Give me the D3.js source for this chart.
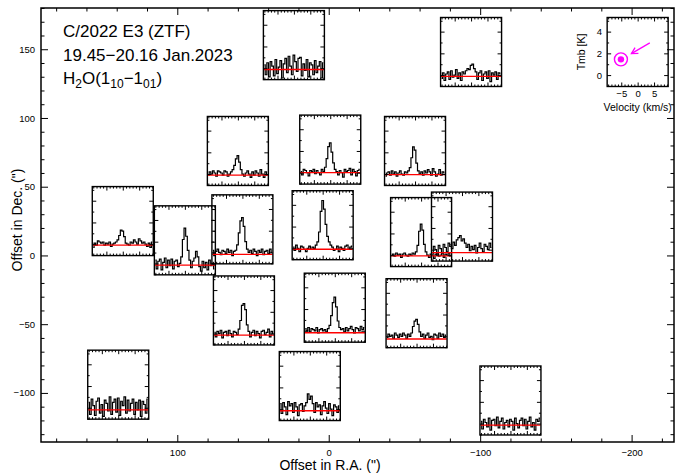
<!DOCTYPE html>
<html>
<head>
<meta charset="utf-8">
<script src="https://cdn.jsdelivr.net/npm/d3@7/dist/d3.min.js"></script>
<style>
  body { margin: 0; background: #fff; }
  text { font-family: "Liberation Sans", Arial, sans-serif; fill: #000; }
</style>
</head>
<body>
<svg id="map" width="676" height="475"></svg>
<script>

// velocity channels (km/s)
let vel = [-9, -8.5, -8, -7.5, -7, -6.5, -6, -5.5, -5, -4.5, -4, -3.5, -3, -2.5, -2, -1.5, -1, -0.5,
           0, 0.5, 1, 1.5, 2, 2.5, 3, 3.5, 4, 4.5, 5, 5.5, 6, 6.5, 7, 7.5, 8, 8.5, 9];

// centre of each spectrum box on the map (arcsec)
let panel_ra  = [23, -94, 60, -1, -57, 136, 95, 57, 4, -61, -88, 56, -4, -58, 139, 12.5, -120];
let panel_dec = [153, 148, 76, 77, 76, 25, 11, 19, 22, 17, 21, -40, -38, -42, -94, -95, -105.5];

// fitted baseline (red line) of each spectrum (K)
let base_level = [-0.12, -0.12, -0.09, 0.0, -0.06, -0.09, -0.15, -0.18, -0.09, -0.06, -0.27,
                  -0.15, -0.18, -0.25, -0.2, -0.15, -0.15];

// Tmb (K), one row per box
let spectra = [
    [0.3,-0.6,0.5,-0.8,0.6,0.2,-0.7,0.8,-0.5,0.1,0.7,-0.9,0.4,0.9,-0.4,1.1,0.2,-0.6,1.2,0.6,-0.3,0.9,1.0,-0.7,0.4,-0.2,0.8,-0.8,0.5,0.3,-0.6,0.7,-0.4,0.2,0.6,-0.9,0.5],
    [-0.3,0.2,-0.5,0.1,0.3,-0.4,0.4,-0.2,0.0,0.5,-0.3,0.2,-0.5,0.3,0.1,0.4,0.6,0.5,0.9,1.0,0.6,0.3,-0.4,0.2,0.4,-0.5,0.1,0.3,-0.3,0.4,-0.6,0.2,0.0,0.3,-0.4,0.2,0.1],
    [-0.1,0.2,0.0,0.3,0.1,-0.2,0.3,0.2,0.1,-0.1,0.3,0.2,-0.2,0.0,0.2,0.4,0.8,1.4,1.7,1.1,0.4,0.0,-0.2,0.1,0.3,0.0,-0.3,0.2,-0.1,0.3,0.1,-0.2,0.4,0.0,-0.3,0.2,-0.1],
    [0.1,-0.2,0.3,0.2,0.0,-0.3,0.2,0.1,0.3,-0.1,0.2,0.0,-0.2,0.3,0.1,0.5,1.3,2.4,2.75,1.9,0.9,0.3,0.1,-0.2,0.2,0.0,-0.4,0.3,0.1,0.2,0.4,-0.2,0.3,0.1,-0.3,0.2,0.3],
    [-0.2,0.1,0.2,-0.1,0.3,0.0,0.2,-0.2,0.1,0.3,0.0,-0.1,0.2,0.1,0.3,0.6,1.5,2.5,2.2,1.0,0.3,0.0,0.2,-0.1,0.3,0.1,0.4,0.2,-0.1,0.5,0.2,-0.2,0.0,0.4,-0.1,0.2,0.1],
    [-0.3,0.1,-0.1,0.3,0.2,0.1,0.2,-0.1,0.1,0.0,0.2,-0.2,0.0,0.1,0.2,0.4,0.8,1.3,1.2,0.7,0.1,0.0,-0.1,0.2,0.1,0.4,0.2,0.0,0.5,0.3,0.1,0.2,0.0,-0.2,0.1,-0.3,0.2],
    [0.3,-0.5,0.2,0.4,-0.6,0.1,0.5,-0.4,0.3,-0.2,0.4,-0.5,0.2,0.3,-0.3,0.0,0.6,2.2,3.25,2.5,1.2,0.3,-0.4,0.2,0.5,1.1,0.6,-0.3,-0.7,0.2,-0.4,0.1,-0.6,0.3,-0.2,0.0,-0.5],
    [0.2,-0.3,0.1,0.3,0.0,-0.2,0.2,0.1,-0.1,0.3,0.0,0.2,-0.3,0.1,0.2,0.7,1.8,2.9,3.2,2.4,1.0,0.3,0.0,0.2,-0.1,0.3,0.1,-0.3,0.2,0.0,0.3,-0.2,0.1,0.2,-0.1,0.3,0.0],
    [0.1,-0.2,0.3,0.0,-0.3,0.2,0.1,-0.1,-0.3,0.0,0.2,-0.1,0.1,0.0,0.3,0.6,1.5,3.4,4.4,3.6,2.2,1.1,0.6,0.3,0.1,-0.2,-0.1,0.2,-0.3,0.1,0.0,-0.2,0.2,0.3,-0.1,0.1,0.2],
    [0.0,0.1,-0.1,0.2,0.0,0.1,-0.2,0.1,0.2,0.0,-0.1,0.1,0.0,0.2,0.1,0.3,0.9,2.2,2.85,2.3,1.0,0.3,0.0,-0.2,0.1,0.0,-0.3,0.1,0.2,-0.1,0.0,0.2,-0.2,0.1,0.0,0.2,-0.1],
    [-0.4,0.3,0.0,-0.5,0.4,0.1,-0.3,0.5,0.2,-0.2,0.6,0.3,0.1,0.7,0.4,0.9,1.1,1.3,0.8,1.0,0.6,0.2,0.5,-0.1,0.3,0.0,0.4,-0.3,0.2,0.6,0.1,-0.2,0.5,0.3,0.0,0.6,0.2],
    [0.1,-0.3,0.2,0.0,0.3,-0.4,0.1,0.2,-0.2,0.3,0.0,-0.3,0.2,0.1,-0.1,0.4,1.2,2.6,2.75,2.2,0.8,0.2,-0.3,0.1,0.3,-0.2,0.2,0.0,-0.4,0.2,0.3,-0.1,0.1,0.4,-0.3,0.2,0.0],
    [0.2,0.0,0.3,-0.1,0.2,0.1,0.0,0.3,-0.2,0.1,0.2,0.0,0.1,-0.1,0.2,0.5,1.4,2.6,3.1,2.2,0.9,0.3,0.1,0.2,-0.1,0.3,0.0,0.2,0.4,0.1,-0.2,0.3,0.2,0.0,0.4,0.1,0.3],
    [-0.1,0.2,0.0,0.1,-0.2,0.3,0.1,-0.1,0.2,0.0,0.3,0.1,-0.2,0.2,0.0,0.3,0.9,1.4,1.55,1.1,0.4,0.0,0.2,-0.2,0.1,0.3,-0.1,0.0,-0.3,0.2,0.1,-0.2,0.3,0.0,0.2,-0.1,0.1],
    [0.5,-0.6,0.8,0.2,-0.7,0.6,0.9,-0.5,0.3,-0.8,0.7,0.4,-0.3,1.0,-0.6,0.5,0.8,-0.4,0.9,-0.7,0.6,0.2,1.0,-0.5,0.7,-0.3,0.4,0.8,-0.6,0.5,-0.2,0.7,-0.8,0.6,0.3,-0.5,0.8],
    [0.5,-0.4,0.6,0.2,-0.5,0.7,0.3,0.5,-0.3,0.6,0.2,-0.6,0.4,0.5,-0.2,0.3,0.6,1.4,0.9,1.2,0.5,-0.3,0.6,0.2,0.4,-0.5,0.3,0.7,0.1,-0.4,0.5,0.0,-0.6,0.4,0.2,-0.3,0.3],
    [0.2,-0.5,0.4,0.1,-0.3,0.5,-0.6,0.3,0.4,-0.2,0.6,-0.4,0.2,0.5,-0.5,0.1,0.3,-0.3,0.4,0.2,-0.6,0.5,0.0,-0.4,0.3,0.5,-0.2,0.4,-0.5,0.2,0.6,-0.3,0.1,-0.6,0.4,0.2,0.5]
];

// axis ticks
let ra_ticks  = [100, 0, -100, -200];
let ra_minor  = [180, 160, 140, 120, 80, 60, 40, 20, -20, -40, -60, -80, -120, -140, -160, -180, -220];
let dec_ticks = [-100, -50, 0, 50, 100, 150];
let dec_minor = [-130, -120, -110, -90, -80, -70, -60, -40, -30, -20, -10, 10, 20, 30, 40,
                 60, 70, 80, 90, 110, 120, 130, 140, 160, 170, 180];
let vel_major = [-5, 0, 5];
let vel_minor = [-9, -8, -7, -6, -4, -3, -2, -1, 1, 2, 3, 4, 6, 7, 8, 9];
let tmb_major = [0, 2, 4];
let tmb_minor = [-1, 1, 3, 5];

// key box: position on map, marker and arrow (velocity, Tmb)
let key_pos = [-204, 148];
let key_dot = [-5.1, 1.45];
let key_arrow = [[3.7, 2.96], [-1.9, 1.98]];

let svg = d3.select('#map');

let x = d3.scaleLinear().domain([190, -228]).range([41, 674]),
    y = d3.scaleLinear().domain([-135.7, 180]).range([442, 8]);

let pw = 61, // spectrum box width
    ph = 69; // spectrum box height

let vs = d3.scaleLinear().domain([-9.3, 9.3]).range([0, pw]),
    ts = d3.scaleLinear().domain([-1.05, 5.3]).range([ph, 0]).clamp(true);

let fmt = d3.format('d');


// ticks on four sides plus a frame
function frame (g, xs, ys, x0, x1, y0, y1, big, small, xmaj, xmin, ymaj, ymin, sw) {

    let sides = [
        [d3.axisBottom, xs, 0, y1, xmaj, xmin],
        [d3.axisTop, xs, 0, y0, xmaj, xmin],
        [d3.axisLeft, ys, x0, 0, ymaj, ymin],
        [d3.axisRight, ys, x1, 0, ymaj, ymin]
    ];

    sides.forEach(function (s) {
        [[s[4], big], [s[5], small]].forEach(function (t) {
            let a = s[0](s[1])
                .tickValues(t[0])
                .tickSizeInner(-t[1])
                .tickSizeOuter(0)
                .tickFormat('');
            let ag = g.append('g')
                .attr('transform', 'translate(' + s[2] + ',' + s[3] + ')')
                .call(a);
            ag.select('.domain').remove();
            ag.selectAll('line').attr('stroke', '#000').attr('stroke-width', 1);
        });
    });

    g.append('rect')
        .attr('x', x0)
        .attr('y', y0)
        .attr('width', x1 - x0)
        .attr('height', y1 - y0)
        .attr('fill', 'none')
        .attr('stroke', '#000')
        .attr('stroke-width', sw);

}

function labels (g, axis_fn, scale, values, tx, ty, pad, size) {

    let ag = g.append('g')
        .attr('transform', 'translate(' + tx + ',' + ty + ')')
        .call(axis_fn(scale).tickValues(values).tickSize(0).tickPadding(pad).tickFormat(fmt));
    ag.select('.domain').remove();
    ag.selectAll('text')
        .attr('font-family', '"Liberation Sans", Arial, sans-serif')
        .attr('font-size', size)
        .attr('fill', '#000');

}

function box_at (ra, dec) {
    return svg.append('g')
        .attr('transform', 'translate(' + (x(ra) - pw / 2) + ',' + (y(dec) - ph / 2) + ')');
}


// main frame
frame(svg, x, y, 41, 674, 8, 442, 7, 3.5, ra_ticks, ra_minor, dec_ticks, dec_minor, 1.5);
labels(svg, d3.axisBottom, x, ra_ticks, 0, 442, 7, 9.5);
labels(svg, d3.axisLeft, y, dec_ticks, 41, 0, 6, 9.5);

svg.append('text')
    .attr('x', 330)
    .attr('y', 470)
    .attr('text-anchor', 'middle')
    .attr('font-size', 14)
    .text('Offset in R.A. (")');

svg.append('text')
    .attr('transform', 'translate(22,220) rotate(-90)')
    .attr('text-anchor', 'middle')
    .attr('font-size', 14)
    .text('Offset in Dec. (")');


// title
let title = svg.append('g').attr('font-size', 17);
title.append('text').attr('x', 63).attr('y', 37).text('C/2022 E3 (ZTF)');
title.append('text').attr('x', 63).attr('y', 61).text('19.45\u221220.16 Jan.2023');
let t3 = title.append('text').attr('x', 63).attr('y', 84);
t3.append('tspan').text('H');
t3.append('tspan').attr('font-size', 12).attr('dy', 4).text('2');
t3.append('tspan').attr('dy', -4).text('O(1');
t3.append('tspan').attr('font-size', 12).attr('dy', 4).text('10');
t3.append('tspan').attr('dy', -4).text('\u22121');
t3.append('tspan').attr('font-size', 12).attr('dy', 4).text('01');
t3.append('tspan').attr('dy', -4).text(')');


// spectra
let spec_line = d3.line()
    .x(function (d, j) { return vs(vel[j]); })
    .y(function (d) { return ts(d); })
    .curve(d3.curveStep);

spectra.forEach(function (s, i) {

    let g = box_at(panel_ra[i], panel_dec[i]);

    g.append('path')
        .attr('d', spec_line(s))
        .attr('fill', 'none')
        .attr('stroke', '#000')
        .attr('stroke-width', 1.2);

    g.append('line')
        .attr('x1', vs(-9.2))
        .attr('x2', vs(9.2))
        .attr('y1', ts(base_level[i]))
        .attr('y2', ts(base_level[i]))
        .attr('stroke', '#ff0000')
        .attr('stroke-width', 1.3);

    frame(g, vs, ts, 0, pw, 0, ph, 4, 2, vel_major, vel_minor, tmb_major, tmb_minor, 1.4);

});


// key box
let key = box_at(key_pos[0], key_pos[1]);

frame(key, vs, ts, 0, pw, 0, ph, 4, 2, vel_major, vel_minor, tmb_major, tmb_minor, 1.4);
labels(key, d3.axisBottom, vs, vel_major, 0, ph, 4, 9.5);
labels(key, d3.axisLeft, ts, tmb_major, 0, 0, 5, 9.5);

key.append('text')
    .attr('x', pw / 2)
    .attr('y', ph + 25)
    .attr('text-anchor', 'middle')
    .attr('font-size', 10.5)
    .text('Velocity (km/s)');

key.append('text')
    .attr('transform', 'translate(-22,' + (ph / 2) + ') rotate(-90)')
    .attr('text-anchor', 'middle')
    .attr('font-size', 10.5)
    .text('Tmb [K]');

key.append('circle')
    .attr('cx', vs(key_dot[0]))
    .attr('cy', ts(key_dot[1]))
    .attr('r', 6.5)
    .attr('fill', 'none')
    .attr('stroke', '#ff00ff')
    .attr('stroke-width', 1.4);

key.append('circle')
    .attr('cx', vs(key_dot[0]))
    .attr('cy', ts(key_dot[1]))
    .attr('r', 3.2)
    .attr('fill', '#ff00ff');

// arrow pointing at the marker
let ax0 = vs(key_arrow[0][0]), ay0 = ts(key_arrow[0][1]),
    ax1 = vs(key_arrow[1][0]), ay1 = ts(key_arrow[1][1]),
    ang = Math.atan2(ay0 - ay1, ax0 - ax1),
    hl = 7;

key.append('line')
    .attr('x1', ax0).attr('y1', ay0)
    .attr('x2', ax1).attr('y2', ay1)
    .attr('stroke', '#ff00ff')
    .attr('stroke-width', 1.3);

key.append('path')
    .attr('d', 'M' + (ax1 + hl * Math.cos(ang + 0.5)) + ',' + (ay1 + hl * Math.sin(ang + 0.5)) +
               'L' + ax1 + ',' + ay1 +
               'L' + (ax1 + hl * Math.cos(ang - 0.5)) + ',' + (ay1 + hl * Math.sin(ang - 0.5)))
    .attr('fill', 'none')
    .attr('stroke', '#ff00ff')
    .attr('stroke-width', 1.3);

</script>
</body>
</html>
